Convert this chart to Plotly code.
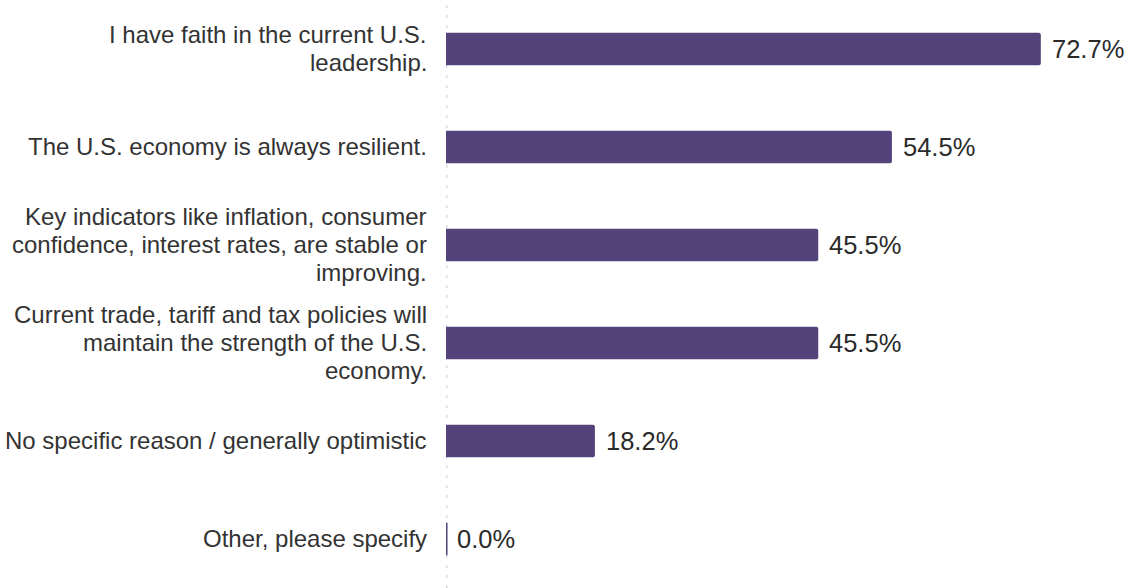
import plotly.graph_objects as go

categories = [
    "I have faith in the current U.S.<br>leadership.",
    "The U.S. economy is always resilient.",
    "Key indicators like inflation, consumer<br>confidence, interest rates, are stable or<br>improving.",
    "Current trade, tariff and tax policies will<br>maintain the strength of the U.S.<br>economy.",
    "No specific reason / generally optimistic",
    "Other, please specify",
]
values = [72.7, 54.5, 45.5, 45.5, 18.2, 0.0]
value_labels = ["72.7%", "54.5%", "45.5%", "45.5%", "18.2%", "0.0%"]

BAR = "#54437b"
FONT = "Liberation Sans, Arial, sans-serif"
LINE_H = 28

fig = go.Figure()
fig.add_trace(go.Bar(
    y=categories, x=values, orientation="h",
    marker=dict(color=BAR, cornerradius=2,
                line=dict(color=BAR, width=[0 if v > 0 else 3 for v in values])),
    width=0.33, hoverinfo="skip",
))
for c, v, t in zip(categories, values, value_labels):
    fig.add_annotation(x=v, y=c, text=t, showarrow=False, xanchor="left",
                       xshift=9, font=dict(size=25.5, color="#2a2a2a", family=FONT))
    lines = c.split("<br>")
    n = len(lines)
    for i, ln in enumerate(lines):
        fig.add_annotation(x=0, y=c, text=ln, showarrow=False, xanchor="right",
                           xshift=-17, yshift=((n - 1) / 2 - i) * LINE_H + 1,
                           font=dict(size=24, color="#333333", family=FONT))

fig.update_layout(
    width=1130, height=588,
    margin=dict(l=446, r=0, t=0, b=0, autoexpand=False),
    paper_bgcolor="white", plot_bgcolor="white",
    font=dict(family=FONT, size=24, color="#333333"),
    showlegend=False,
    xaxis=dict(range=[0, 83.6], visible=False, showgrid=False, zeroline=False,
               automargin=False),
    yaxis=dict(autorange="reversed", showgrid=False, zeroline=False,
               showline=False, ticks="", showticklabels=False, automargin=False),
    shapes=[dict(type="line", xref="x", yref="paper", x0=0, x1=0, y0=0, y1=1,
                 line=dict(color="#dcdcdc", width=3, dash="3px,7px"), layer="below")],
)
fig.write_html("out.html", config={"displayModeBar": False},
               post_script="document.body.style.margin='0';document.body.style.overflow='hidden';")
